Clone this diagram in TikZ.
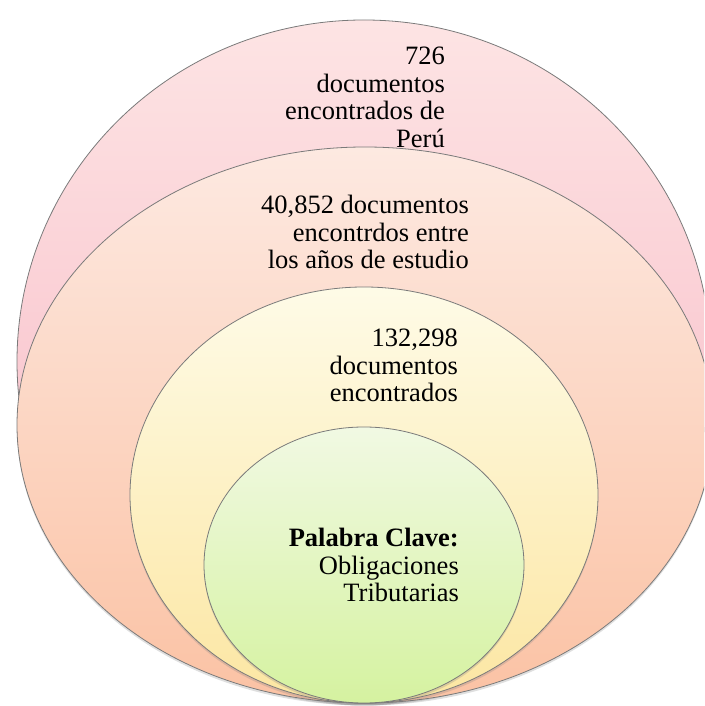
\documentclass[tikz,border=0pt]{standalone}
\usepackage{fontspec}
\setmainfont{Liberation Serif}
\newfontfamily\romana{Liberation Serif}
\usetikzlibrary{shapes.geometric, shadows}

\definecolor{rosaA}{HTML}{FDE4E4}
\definecolor{rosaB}{HTML}{F7B4C2}
\definecolor{durazA}{HTML}{FDE9E1}
\definecolor{durazB}{HTML}{FBC2A4}
\definecolor{cremaA}{HTML}{FEFBE7}
\definecolor{cremaB}{HTML}{FCE6A2}
\definecolor{verdeA}{HTML}{F1F9E3}
\definecolor{verdeB}{HTML}{D5F2A0}
\definecolor{borde}{HTML}{7A7A7A}

\begin{document}
\begin{tikzpicture}[x=1pt, y=1pt,
  anillo/.style={draw=borde, ellipse, line width=0.8pt, inner sep=0pt, outer sep=0pt,
    drop shadow={opacity=0.25, shadow xshift=0pt, shadow yshift=-2.5pt}},
  etiqueta/.style={anchor=north east, align=right, inner sep=0pt,
    font=\romana\fontsize{26.5}{27.5}\selectfont}]
\useasboundingbox (0,0) rectangle (704,706);
\clip (0,0) rectangle (704,706);

% conjuntos, de afuera hacia adentro
\node[anillo, top color=rosaA, bottom color=rosaB, minimum width=694pt, minimum height=683pt] (peru) at (364,344.5) {};
\node[anillo, top color=durazA, bottom color=durazB, minimum width=696pt, minimum height=556pt] (anios) at (365,281) {};
\node[anillo, top color=cremaA, bottom color=cremaB, minimum width=468pt, minimum height=416pt] (total) at (364,211) {};
\node[anillo, top color=verdeA, bottom color=verdeB, minimum width=320pt, minimum height=276pt] (clave) at (364,141) {};

% textos
\node[etiqueta] (tperu) at (445,659) {726\\documentos\\encontrados de\\Perú};
\node[etiqueta] (tanios) at (469,511) {40,852 documentos\\encontrdos entre\\los años de estudio};
\node[etiqueta] (ttotal) at (458,377) {132,298\\documentos\\encontrados};
\node[etiqueta] (tclave) at (459,178) {\textbf{Palabra Clave:}\\Obligaciones\\Tributarias};
\end{tikzpicture}
\end{document}
